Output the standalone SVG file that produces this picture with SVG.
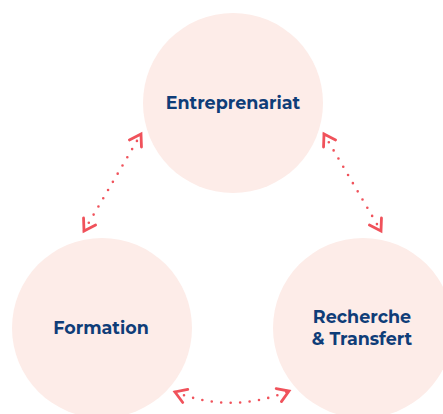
<svg xmlns="http://www.w3.org/2000/svg" width="443" height="414" viewBox="0 0 443 414">
<style>
.node{fill:#fdece8}
.lbl{font-family:"Montserrat","Liberation Sans",Arial,sans-serif;font-weight:bold;font-size:17.5px;fill:#0f3d78;text-anchor:middle}
.dots{fill:none;stroke:#f0525b;stroke-width:2.6;stroke-linecap:round;stroke-dasharray:0 9.5}
</style>
<defs>
<marker id="ah" viewBox="-13 -9 16 18" markerWidth="16" markerHeight="18" markerUnits="userSpaceOnUse" refX="0" refY="0" orient="auto-start-reverse">
<path d="M-11,-7 L0,0 L-11,7" fill="none" stroke="#f0525b" stroke-width="2.8" stroke-linecap="round" stroke-linejoin="miter"/>
</marker>
</defs>
<g id="connectors">
<path class="dots" d="M84,231 L141,134" marker-start="url(#ah)" marker-end="url(#ah)"/>
<path class="dots" d="M324,134 L381,231" marker-start="url(#ah)" marker-end="url(#ah)"/>
<path class="dots" d="M175,392 Q232,414 289,391" marker-start="url(#ah)" marker-end="url(#ah)"/>
</g>
<g id="entreprenariat">
<circle class="node" cx="233" cy="103" r="90"/>
<text class="lbl" x="233" y="109">Entreprenariat</text>
</g>
<g id="formation">
<circle class="node" cx="102" cy="328" r="90"/>
<text class="lbl" x="101" y="334">Formation</text>
</g>
<g id="recherche">
<circle class="node" cx="363" cy="328" r="90"/>
<text class="lbl" x="362" y="323">Recherche</text>
<text class="lbl" x="362" y="345">&amp; Transfert</text>
</g>
</svg>
